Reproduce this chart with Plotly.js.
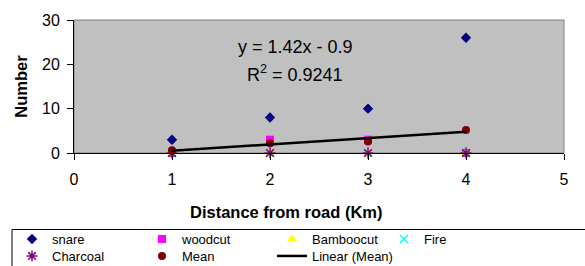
<!DOCTYPE html>
<html><head><meta charset="utf-8">
<script src="https://cdn.plot.ly/plotly-3.0.1.min.js"></script>
<style>html,body{margin:0;padding:0;background:#fff;}#chart{width:585px;height:266px;}</style>
</head><body><div id="chart"></div>
<script>
// ---- data ----
const distance = [1, 2, 3, 4];
const snare = [3, 8, 10, 26];
const woodcut = [0, 3, 3, 0];
const bamboocut = [0, 0, 0, 0];
const fire = [0, 0, 0, 0];
const charcoal = [0, 0, 0, 0];
const mean = [0.6, 2.2, 2.6, 5.2];
const xTickVals = [0, 1, 2, 3, 4, 5];
const yTickVals = [0, 10, 20, 30];
const seriesNames = ['snare', 'woodcut', 'Bamboocut', 'Fire', 'Charcoal', 'Mean', 'Linear (Mean)'];
const xTitle = 'Distance from road (Km)';
const yTitle = 'Number';

// ---- least-squares trendline of the Mean series ----
function linFit(x, y) {
  const n = x.length;
  const mx = x.reduce((a, b) => a + b, 0) / n;
  const my = y.reduce((a, b) => a + b, 0) / n;
  let sxy = 0, sxx = 0, syy = 0;
  for (let i = 0; i < n; i++) {
    sxy += (x[i] - mx) * (y[i] - my);
    sxx += (x[i] - mx) ** 2;
    syy += (y[i] - my) ** 2;
  }
  const m = sxy / sxx;
  return { m: m, b: my - m * mx, r2: (sxy * sxy) / (sxx * syy) };
}
const fitRes = linFit(distance, mean);
const trendX = [Math.min(...distance), Math.max(...distance)];
const trendY = trendX.map(v => fitRes.m * v + fitRes.b);
const fmt = v => String(parseFloat(v.toFixed(2)));
const eqText = 'y = ' + fmt(fitRes.m) + 'x ' + (fitRes.b < 0 ? '- ' : '+ ') + fmt(Math.abs(fitRes.b));
const r2Text = 'R<sup>2</sup> = ' + fitRes.r2.toFixed(4);

// ---- layout helpers (pixel -> paper) ----
const W = 585, H = 266;
const M = { l: 74, r: 21, t: 20, b: 113 };
const pw = W - M.l - M.r, ph = H - M.t - M.b;
const px2x = px => (px - M.l) / pw;
const py2y = py => (H - M.b - py) / ph;

const FONT = 'Liberation Sans, Arial, sans-serif';

// legend slots: [left px, row center px]
const colX = [12, 142, 272, 384];
const rowY = [239, 256];
const slots = [[0,0],[1,0],[2,0],[3,0],[0,1],[1,1],[2,1]];
const legendKeys = slots.map((s, i) => i === 0 ? 'legend' : 'legend' + (i + 1));

const traces = [
  { x: distance, y: snare, name: seriesNames[0], mode: 'markers',
    marker: { symbol: 'diamond', size: 8, color: '#000080' } },
  { x: distance, y: woodcut, name: seriesNames[1], mode: 'markers',
    marker: { symbol: 'square', size: 8, color: '#FF00FF' } },
  { x: distance, y: bamboocut, name: seriesNames[2], mode: 'markers',
    marker: { symbol: 'triangle-up', size: 9, color: '#FFFF00' } },
  { x: distance, y: fire, name: seriesNames[3], mode: 'markers',
    marker: { symbol: 'x-thin-open', size: 8, color: '#00FFFF', line: { color: '#00FFFF', width: 1.5 } } },
  { x: distance, y: charcoal, name: seriesNames[4], mode: 'markers',
    marker: { symbol: 'asterisk-open', size: 9, color: '#800080', line: { color: '#800080', width: 1.5 } } },
  { x: distance, y: mean, name: seriesNames[5], mode: 'markers',
    marker: { symbol: 'circle', size: 8, color: '#800000' } },
  { x: trendX, y: trendY, name: seriesNames[6], mode: 'lines',
    line: { color: '#000000', width: 2.5 } }
].map((t, i) => Object.assign(t, { type: 'scatter', cliponaxis: false, legend: legendKeys[i], showlegend: true }));

const layout = {
  width: W, height: H,
  margin: Object.assign({ autoexpand: false }, M),
  paper_bgcolor: '#FFFFFF',
  plot_bgcolor: '#C0C0C0',
  font: { family: FONT, color: '#000000' },
  xaxis: {
    range: [0, 5], tickvals: xTickVals, ticks: 'outside', ticklen: 6, tickcolor: '#000',
    showline: true, linecolor: '#000', linewidth: 1, showgrid: false, zeroline: false,
    tickfont: { family: FONT, size: 16, color: '#000' }, ticklabelstandoff: 6, fixedrange: true
  },
  yaxis: {
    range: [0, 30], tickvals: yTickVals, ticks: 'outside', ticklen: 6, tickcolor: '#000',
    showline: true, linecolor: '#000', linewidth: 1, showgrid: false, zeroline: false,
    tickfont: { family: FONT, size: 16, color: '#000' }, ticklabelstandoff: 4, fixedrange: true,
    title: { text: yTitle, font: { family: FONT, size: 16.5, weight: 'bold', color: '#000' }, standoff: 10 }
  },
  shapes: [
    { type: 'rect', xref: 'paper', yref: 'paper', x0: 0, x1: 1, y0: 0, y1: 1,
      line: { color: '#808080', width: 1 }, fillcolor: 'rgba(0,0,0,0)', layer: 'below' },
    { type: 'rect', xref: 'paper', yref: 'paper', x0: px2x(12), x1: px2x(620), y0: py2y(229.5), y1: py2y(300),
      line: { color: '#000000', width: 1 }, fillcolor: 'rgba(0,0,0,0)', layer: 'above' }
  ],
  annotations: [
    { text: eqText, xref: 'paper', yref: 'paper', x: px2x(295), y: py2y(47), showarrow: false,
      xanchor: 'center', yanchor: 'middle', font: { family: FONT, size: 18, color: '#000' } },
    { text: r2Text, xref: 'paper', yref: 'paper', x: px2x(295), y: py2y(73), showarrow: false,
      xanchor: 'center', yanchor: 'middle', font: { family: FONT, size: 18, color: '#000' } },
    { text: xTitle, xref: 'paper', yref: 'paper', x: px2x(286), y: py2y(212), showarrow: false,
      xanchor: 'center', yanchor: 'middle', font: { family: FONT, size: 16.5, weight: 'bold', color: '#000' } }
  ],
  showlegend: true
};
slots.forEach((s, i) => {
  layout[legendKeys[i]] = {
    x: px2x(colX[s[0]]), y: py2y(rowY[s[1]]), xanchor: 'left', yanchor: 'middle',
    orientation: 'v', bgcolor: 'rgba(0,0,0,0)', borderwidth: 0,
    font: { family: FONT, size: 13, color: '#000' }
  };
});

Plotly.newPlot('chart', traces, layout, { staticPlot: true, displayModeBar: false });
</script>
</body></html>
